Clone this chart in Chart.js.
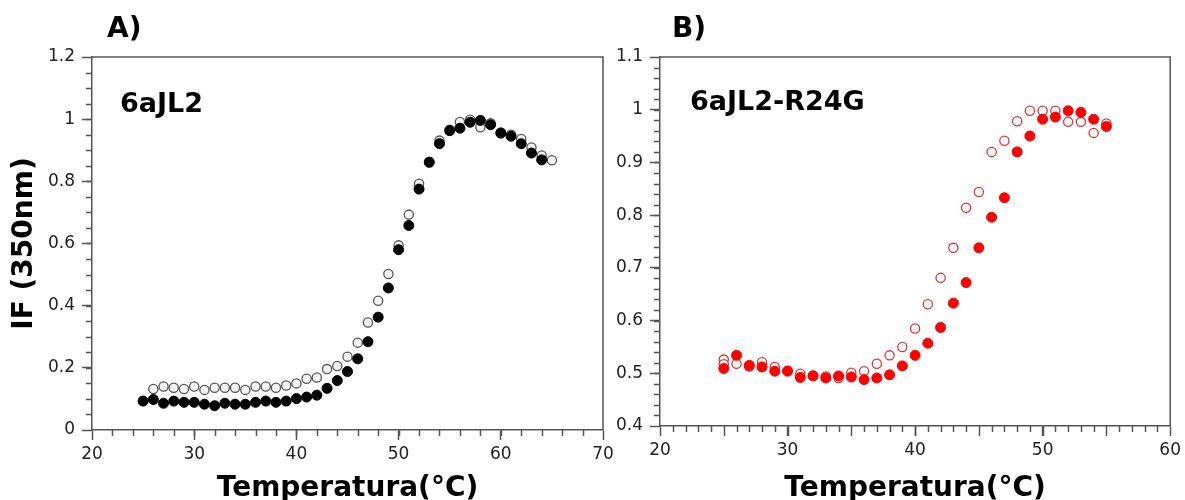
<!DOCTYPE html>
<html>
<head>
<meta charset="utf-8">
<script src="https://cdn.jsdelivr.net/npm/chart.js@4.4.1/dist/chart.umd.min.js"></script>
<style>
  body { margin: 0; background: #fff; }
  #wrap { position: relative; width: 1185px; height: 500px; overflow: hidden; }
  canvas { position: absolute; top: 0; }
  #chartA { left: 0; }
  #chartB { left: 600px; }
</style>
</head>
<body>
<div id="wrap">
  <canvas id="chartA" width="620" height="500"></canvas>
  <canvas id="chartB" width="585" height="500"></canvas>
</div>
<script>
"use strict";

// panel A - 6aJL2
let tempAFilled = [25, 26, 27, 28, 29, 30, 31, 32, 33, 34, 35, 36, 37, 38, 39, 40, 41, 42, 43, 44,
  45, 46, 47, 48, 49, 50, 51, 52, 53, 54, 55, 56, 57, 58, 59, 60, 61, 62, 63, 64];
let ifAFilled = [0.093, 0.098, 0.086, 0.093, 0.089, 0.089, 0.083, 0.078, 0.086, 0.083,
  0.083, 0.089, 0.093, 0.089, 0.093, 0.101, 0.106, 0.112, 0.134, 0.159,
  0.188, 0.229, 0.284, 0.363, 0.457, 0.580, 0.658, 0.775, 0.861, 0.921,
  0.963, 0.971, 0.990, 0.996, 0.982, 0.955, 0.945, 0.921, 0.891, 0.869];
let tempAOpen = [26, 27, 28, 29, 30, 31, 32, 33, 34, 35, 36, 37, 38, 39, 40, 41, 42, 43, 44, 45,
  46, 47, 48, 49, 50, 51, 52, 53, 54, 55, 56, 57, 58, 59, 60, 61, 62, 63, 64, 65];
let ifAOpen = [0.132, 0.140, 0.136, 0.132, 0.140, 0.129, 0.136, 0.136, 0.136, 0.129,
  0.140, 0.140, 0.136, 0.143, 0.150, 0.165, 0.169, 0.196, 0.206, 0.236,
  0.281, 0.346, 0.416, 0.502, 0.594, 0.693, 0.792, 0.863, 0.931, 0.966,
  0.991, 0.998, 0.974, 0.987, 0.957, 0.950, 0.936, 0.909, 0.883, 0.868];

// panel B - 6aJL2-R24G
let tempBFilled = [25, 26, 27, 28, 29, 30, 31, 32, 33, 34, 35, 36, 37, 38, 39, 40,
  41, 42, 43, 44, 45, 46, 47, 48, 49, 50, 51, 52, 53, 54, 55];
let ifBFilled = [0.509, 0.534, 0.515, 0.512, 0.504, 0.504, 0.492, 0.495, 0.491, 0.495,
  0.493, 0.488, 0.491, 0.497, 0.514, 0.534, 0.557, 0.587, 0.633, 0.672,
  0.738, 0.796, 0.833, 0.920, 0.950, 0.982, 0.986, 0.998, 0.995, 0.982, 0.968];
let tempBOpen = [25, 25, 26, 27, 28, 29, 30, 31, 32, 33, 34, 35, 36, 37, 38, 39, 40,
  41, 42, 43, 44, 45, 46, 47, 48, 49, 50, 51, 52, 53, 54, 55];
let ifBOpen = [0.526, 0.517, 0.518, 0.513, 0.521, 0.512, 0.505, 0.499, 0.496, 0.494, 0.491, 0.501,
  0.504, 0.518, 0.534, 0.550, 0.585, 0.631, 0.681, 0.738, 0.814, 0.844,
  0.920, 0.941, 0.978, 0.998, 0.998, 0.998, 0.977, 0.977, 0.956, 0.974];

// tick labels
let xTicksA = [20, 30, 40, 50, 60, 70];
let yTicksA = [0, 0.2, 0.4, 0.6, 0.8, 1, 1.2];
let xTicksB = [20, 30, 40, 50, 60];
let yTicksB = [0.4, 0.5, 0.6, 0.7, 0.8, 0.9, 1, 1.1];

let xTitle = "Temperatura(°C)";
let yTitle = "IF (350nm)";

let fontFamily = "'DejaVu Sans', sans-serif";
let axisColor = "#555";

function toPoints(xs, ys) {
  let pts = [];
  for (let i = 0; i < xs.length; i++) {
    pts.push({ x: xs[i], y: ys[i] });
  }
  return pts;
}

function fmt(v) {
  return String(Number(v.toFixed(2)));
}

// minor ticks + top/right frame
let framePlugin = {
  id: "frame",
  afterDraw(chart, args, opts) {
    let ctx = chart.ctx;
    let area = chart.chartArea;
    let xs = chart.scales.x;
    let ys = chart.scales.y;
    ctx.save();
    ctx.strokeStyle = axisColor;
    ctx.lineWidth = 1.5;

    let n = Math.round((xs.max - xs.min) / opts.xStep);
    for (let i = 1; i < n; i++) {
      let v = xs.min + i * opts.xStep;
      let px = Math.round(xs.getPixelForValue(v)) + 0.5;
      let len = 6;
      if (opts.xMid && i % opts.xMid === 0) len = 10;
      ctx.beginPath();
      ctx.moveTo(px, area.bottom);
      ctx.lineTo(px, area.bottom + len);
      ctx.stroke();
    }
    let m = Math.round((ys.max - ys.min) / opts.yStep);
    for (let i = 1; i < m; i++) {
      let v = ys.min + i * opts.yStep;
      let py = Math.round(ys.getPixelForValue(v)) + 0.5;
      ctx.beginPath();
      ctx.moveTo(area.left, py);
      ctx.lineTo(area.left - 6, py);
      ctx.stroke();
    }

    ctx.beginPath();
    ctx.moveTo(area.left, area.top);
    ctx.lineTo(area.right, area.top);
    ctx.lineTo(area.right, area.bottom);
    ctx.stroke();
    ctx.restore();
  }
};

// panel letters and sample names
let textPlugin = {
  id: "texts",
  afterDraw(chart, args, opts) {
    let ctx = chart.ctx;
    ctx.save();
    ctx.fillStyle = "#000";
    ctx.textBaseline = "alphabetic";
    ctx.textAlign = "left";
    for (let t of opts.items) {
      ctx.font = "bold " + t.size + "px " + fontFamily;
      ctx.fillText(t.text, t.x, t.y);
    }
    ctx.restore();
  }
};

function makeScales(xTicks, yTicks, xHeight, yWidth, showYTitle) {
  return {
    x: {
      type: "linear",
      min: xTicks[0],
      max: xTicks[xTicks.length - 1],
      afterBuildTicks: (scale) => { scale.ticks = xTicks.map((v) => ({ value: v })); },
      afterFit: (scale) => { scale.height = xHeight; },
      border: { display: true, color: axisColor, width: 1.5 },
      grid: { drawOnChartArea: false, drawTicks: true, tickLength: 10, tickColor: axisColor, tickWidth: 1.5 },
      ticks: {
        color: "#222",
        padding: 4,
        maxRotation: 0,
        font: { family: fontFamily, size: 17 },
        callback: (v) => fmt(v)
      },
      title: {
        display: true,
        text: xTitle,
        color: "#000",
        padding: { top: 0, bottom: -3 },
        font: { family: fontFamily, size: 28, weight: "bold", lineHeight: 1 }
      }
    },
    y: {
      type: "linear",
      min: yTicks[0],
      max: yTicks[yTicks.length - 1],
      afterBuildTicks: (scale) => { scale.ticks = yTicks.map((v) => ({ value: v })); },
      afterFit: (scale) => { scale.width = yWidth; },
      border: { display: true, color: axisColor, width: 1.5 },
      grid: { drawOnChartArea: false, drawTicks: true, tickLength: 10, tickColor: axisColor, tickWidth: 1.5 },
      ticks: {
        color: "#222",
        padding: 7,
        font: { family: fontFamily, size: 17 },
        callback: (v) => fmt(v)
      },
      title: {
        display: showYTitle,
        text: yTitle,
        color: "#000",
        padding: { top: 11, bottom: 0 },
        font: { family: fontFamily, size: 28, weight: "bold", lineHeight: 1 }
      }
    }
  };
}

let chartA = new Chart(document.getElementById("chartA"), {
  type: "scatter",
  data: {
    datasets: [
      {
        label: "6aJL2 filled",
        data: toPoints(tempAFilled, ifAFilled),
        pointRadius: 5,
        pointBackgroundColor: "#000",
        pointBorderColor: "#000",
        pointBorderWidth: 1
      },
      {
        label: "6aJL2 open",
        data: toPoints(tempAOpen, ifAOpen),
        pointRadius: 4.6,
        pointBackgroundColor: "#f2f2f2",
        pointBorderColor: "#555",
        pointBorderWidth: 1.3
      }
    ]
  },
  options: {
    responsive: false,
    animation: false,
    devicePixelRatio: 1,
    layout: { padding: { top: 57, right: 17, left: 0, bottom: 0 } },
    scales: makeScales(xTicksA, yTicksA, 70, 92, true),
    plugins: {
      legend: { display: false },
      tooltip: { enabled: false },
      frame: { xStep: 2, yStep: 0.05 },
      texts: {
        items: [
          { text: "A)", x: 107, y: 37, size: 28 },
          { text: "6aJL2", x: 120, y: 112, size: 27 }
        ]
      }
    }
  },
  plugins: [framePlugin, textPlugin]
});

let chartB = new Chart(document.getElementById("chartB"), {
  type: "scatter",
  data: {
    datasets: [
      {
        label: "R24G filled",
        data: toPoints(tempBFilled, ifBFilled),
        pointRadius: 5,
        pointBackgroundColor: "#ff0000",
        pointBorderColor: "#ff0000",
        pointBorderWidth: 1
      },
      {
        label: "R24G open",
        data: toPoints(tempBOpen, ifBOpen),
        pointRadius: 4.6,
        pointBackgroundColor: "#fff",
        pointBorderColor: "#e83030",
        pointBorderWidth: 1.3
      }
    ]
  },
  options: {
    responsive: false,
    animation: false,
    devicePixelRatio: 1,
    layout: { padding: { top: 57, right: 11, left: 0, bottom: 0 } },
    scales: makeScales(xTicksB, yTicksB, 74, 60, false),
    plugins: {
      legend: { display: false },
      tooltip: { enabled: false },
      frame: { xStep: 1, xMid: 5, yStep: 0.02 },
      texts: {
        items: [
          { text: "B)", x: 72, y: 37, size: 28 },
          { text: "6aJL2-R24G", x: 90, y: 110, size: 27 }
        ]
      }
    }
  },
  plugins: [framePlugin, textPlugin]
});
</script>
</body>
</html>
